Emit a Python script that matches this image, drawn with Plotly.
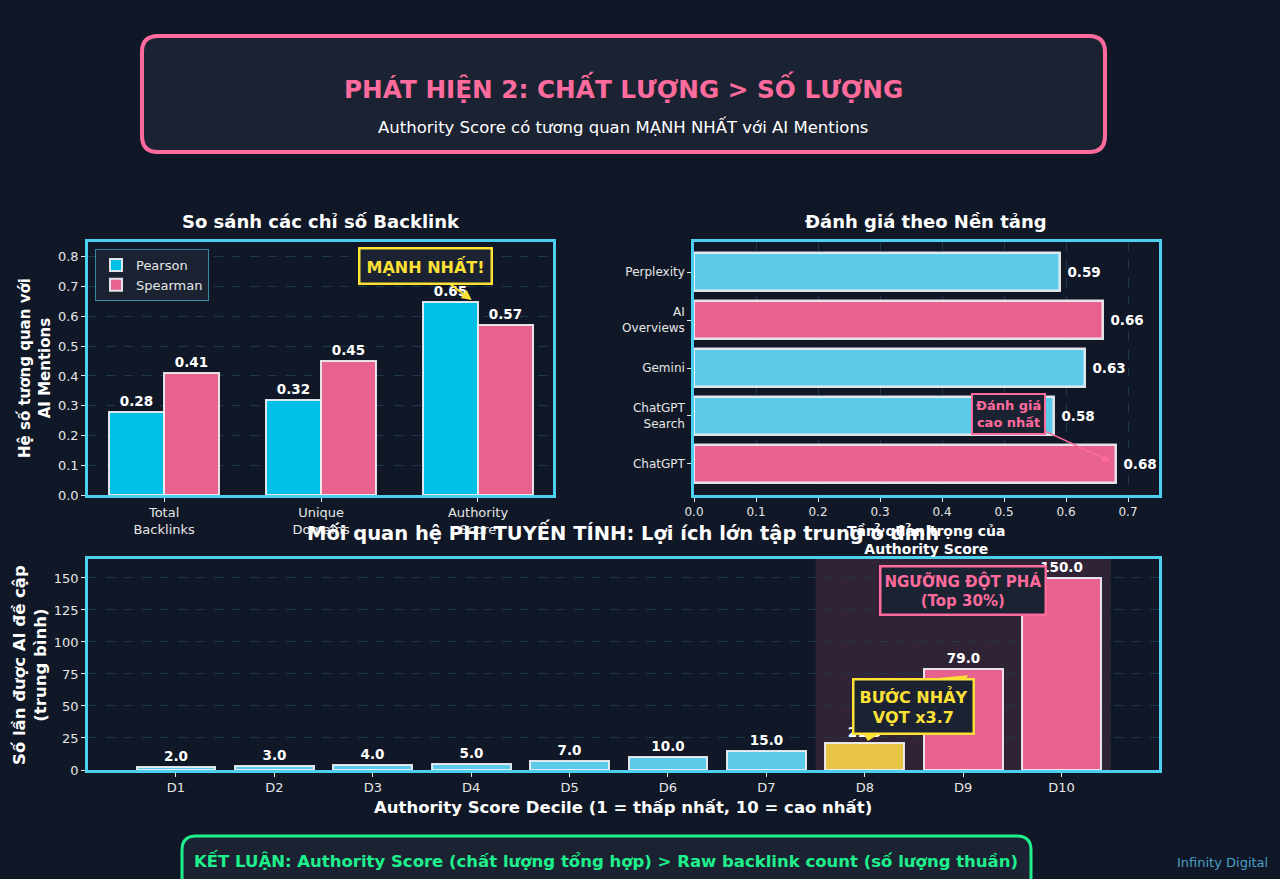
import plotly.graph_objects as go

# ---------------- data ----------------
metric_labels = ["Total<br>Backlinks", "Unique<br>Domains", "Authority<br>Score"]
pearson = [0.28, 0.32, 0.65]
spearman = [0.41, 0.45, 0.57]

platforms = ["ChatGPT", "ChatGPT<br>Search", "Gemini", "AI<br>Overviews", "Perplexity"]
platform_vals = [0.68, 0.58, 0.63, 0.66, 0.59]

deciles = ["D1", "D2", "D3", "D4", "D5", "D6", "D7", "D8", "D9", "D10"]
mentions = [2.0, 3.0, 4.0, 5.0, 7.0, 10.0, 15.0, 21.3, 79.0, 150.0]

# ---------------- styling ----------------
W, H = 1280, 879
BG = "#101827"
BOX = "#1b2333"
CYAN = "#00c0e8"
LCYAN = "#5ccbea"
PINK = "#e8628f"
HPINK = "#ff6b9d"
YEL = "#e8c547"
TYEL = "#ffe135"
SPINE = "#4dd0f0"
GRID = "#1e3a4a"
EDGE = "rgba(240,240,245,0.92)"
TXT = "#e6e6e6"
GREEN = "#1ef08c"
FONT = "DejaVu Sans"


def px(x):
    return x / W


def py(y):
    return 1 - y / H


def rrect(x0, y0, x1, y1, r):
    p = lambda x, y: f"{px(x):.5f},{py(y):.5f}"
    s = f"M {p(x0 + r, y0)} L {p(x1 - r, y0)} Q {p(x1, y0)} {p(x1, y0 + r)} "
    s += f"L {p(x1, y1 - r)} Q {p(x1, y1)} {p(x1 - r, y1)} "
    s += f"L {p(x0 + r, y1)} Q {p(x0, y1)} {p(x0, y1 - r)} "
    s += f"L {p(x0, y0 + r)} Q {p(x0, y0)} {p(x0 + r, y0)} Z"
    return s


fig = go.Figure()

lab = dict(color="white", size=13.5, family=FONT)

# ---- left: grouped bars ----
xi = list(range(len(metric_labels)))
fig.add_trace(go.Bar(
    x=xi, y=pearson, name="Pearson", offset=-0.35, width=0.35,
    marker=dict(color=CYAN, line=dict(color=EDGE, width=2)),
    text=[f"<b>{v:.2f}</b>" for v in pearson], textposition="outside",
    textfont=lab, cliponaxis=False, xaxis="x", yaxis="y"))
fig.add_trace(go.Bar(
    x=xi, y=spearman, name="Spearman", offset=0, width=0.35,
    marker=dict(color=PINK, line=dict(color=EDGE, width=2)),
    text=[f"<b>{v:.2f}</b>" for v in spearman], textposition="outside",
    textfont=lab, cliponaxis=False, xaxis="x", yaxis="y"))

# ---- right: horizontal bars ----
pcolors = [PINK, LCYAN, LCYAN, PINK, LCYAN]
yi = list(range(len(platforms)))
fig.add_trace(go.Bar(
    x=platform_vals, y=yi, orientation="h", width=0.8, showlegend=False,
    marker=dict(color=pcolors, line=dict(color=EDGE, width=2.5)),
    text=[f"<b> {v:.2f}</b>" for v in platform_vals], textposition="outside",
    textfont=lab, cliponaxis=False, xaxis="x2", yaxis="y2"))

# ---- bottom: decile bars ----
dcolors = [LCYAN] * 7 + [YEL] + [PINK] * 2
di = list(range(len(deciles)))
fig.add_trace(go.Bar(
    x=di, y=mentions, width=0.8, showlegend=False,
    marker=dict(color=dcolors, line=dict(color=EDGE, width=2)),
    text=[f"<b>{v:.1f}</b>" for v in mentions], textposition="outside",
    textfont=lab, cliponaxis=False, xaxis="x3", yaxis="y3"))

axis_common = dict(showline=True, linecolor=SPINE, linewidth=2.5, mirror=True,
                   ticks="outside", ticklen=4, tickcolor=TXT, zeroline=False,
                   automargin=False,
                   tickfont=dict(color=TXT, size=13, family=FONT))
small_ticks = {**axis_common, "tickfont": dict(color=TXT, size=12, family=FONT)}

fig.update_layout(
    width=W, height=H, margin=dict(l=0, r=0, t=0, b=0, pad=0, autoexpand=False),
    paper_bgcolor=BG, plot_bgcolor=BG,
    font=dict(family=FONT, color=TXT),
    bargap=0,
    xaxis=dict(domain=[px(88), px(553)], anchor="y", range=[-0.485, 2.478],
               tickvals=xi, ticktext=metric_labels, showgrid=False, **axis_common),
    yaxis=dict(domain=[py(495), py(242)], anchor="x", range=[0, 0.85],
               tickvals=[0, 0.1, 0.2, 0.3, 0.4, 0.5, 0.6, 0.7, 0.8], tickformat=".1f",
               showgrid=True, gridcolor=GRID, griddash="dash", gridwidth=1, **axis_common),
    xaxis2=dict(domain=[px(694), px(1159)], anchor="y2", range=[0, 0.75],
                tickvals=[0, 0.1, 0.2, 0.3, 0.4, 0.5, 0.6, 0.7], tickformat=".1f",
                showgrid=True, gridcolor=GRID, griddash="dash", gridwidth=1, **small_ticks),
    yaxis2=dict(domain=[py(495), py(242)], anchor="x2", range=[-0.646, 4.625],
                tickvals=yi, ticktext=platforms, showgrid=False, **small_ticks),
    xaxis3=dict(domain=[px(88), px(1159)], anchor="y3", range=[-0.894, 9.99],
                tickvals=di, ticktext=deciles, showgrid=False, **axis_common),
    yaxis3=dict(domain=[py(770), py(559)], anchor="x3", range=[0, 164.8],
                tickvals=[0, 25, 50, 75, 100, 125, 150],
                showgrid=True, gridcolor=GRID, griddash="dash", gridwidth=1, **axis_common),
    legend=dict(x=px(95), y=py(249), xanchor="left", yanchor="top",
                bgcolor=BOX, bordercolor="rgba(77,208,240,0.6)", borderwidth=1,
                tracegroupgap=0,
                font=dict(color=TXT, size=13, family=FONT)),
)

shapes = [
    dict(type="path", path=rrect(142, 36, 1105, 152, 16), xref="paper", yref="paper",
         fillcolor=BOX, line=dict(color=HPINK, width=4), layer="below"),
    dict(type="path", path=rrect(182, 836, 1031, 892, 14), xref="paper", yref="paper",
         fillcolor=BOX, line=dict(color=GREEN, width=3), layer="below"),
    dict(type="rect", xref="x3", yref="y3 domain", x0=6.5, x1=9.5, y0=0, y1=1,
         fillcolor="rgba(232,98,143,0.15)", line=dict(width=0), layer="below"),
]
fig.update_layout(shapes=shapes)


def pa(x, y, text, size, color="white", bold=True, angle=0, **kw):
    t = f"<b>{text}</b>" if bold else text
    return dict(x=px(x), y=py(y), xref="paper", yref="paper", text=t, showarrow=False,
                textangle=angle, xanchor="center", yanchor="middle",
                font=dict(size=size, color=color, family=FONT), **kw)


ann = [
    pa(623, 88, "PHÁT HIỆN 2: CHẤT LƯỢNG > SỐ LƯỢNG", 24.7, HPINK),
    pa(623, 126, "Authority Score có tương quan MẠNH NHẤT với AI Mentions", 16.5, "white", bold=False),
    pa(321, 222, "So sánh các chỉ số Backlink", 18),
    pa(926, 222, "Đánh giá theo Nền tảng", 18),
    pa(34, 368, "Hệ số tương quan với<br>AI Mentions", 15, angle=-90),
    pa(30, 665, "Số lần được AI đề cập<br>(trung bình)", 16.5, angle=-90),
    pa(623, 532, "Mối quan hệ PHI TUYẾN TÍNH: Lợi ích lớn tập trung ở đỉnh", 19.5),
    pa(926, 540, "Tầm quan trọng của<br>Authority Score", 14),
    pa(623, 807, "Authority Score Decile (1 = thấp nhất, 10 = cao nhất)", 16.5),
    pa(606, 860, "KẾT LUẬN: Authority Score (chất lượng tổng hợp) > Raw backlink count (số lượng thuần)", 16.5, GREEN),
    pa(1222, 862, "Infinity Digital", 13, "#4a9ec4", bold=False),
    dict(x=1.96, y=0.655, xref="x", yref="y", text="<b>MẠNH NHẤT!</b>", showarrow=True,
         ax=-46, ay=-34, arrowhead=2, arrowsize=1, arrowwidth=2, arrowcolor=TYEL,
         font=dict(size=16, color=TYEL, family=FONT), bgcolor=BOX, bordercolor=TYEL,
         borderwidth=2.5, borderpad=6),
    dict(x=0.671, y=0.06, xref="x2", yref="y2", text="<b>Đánh giá<br>cao nhất</b>", showarrow=True,
         ax=-102, ay=-47, arrowhead=2, arrowsize=1, arrowwidth=1.5, arrowcolor=HPINK,
         font=dict(size=13, color=HPINK, family=FONT), bgcolor=BOX, bordercolor=HPINK,
         borderwidth=2, borderpad=3),
    dict(x=8.0, y=140, xref="x3", yref="y3", text="<b>NGƯỠNG ĐỘT PHÁ<br>(Top 30%)</b>",
         showarrow=False, font=dict(size=15, color=HPINK, family=FONT), bgcolor=BOX,
         bordercolor=HPINK, borderwidth=2.5, borderpad=3),
    dict(x=8.05, y=74, xref="x3", yref="y3", ax=7.0, ay=24, axref="x3", ayref="y3",
         text="", showarrow=True, arrowhead=2, arrowsize=0.9, arrowwidth=6, arrowcolor=TYEL),
    dict(x=7.5, y=49.5, xref="x3", yref="y3", text="<b>BƯỚC NHẢY<br>VỌT x3.7</b>",
         showarrow=False, font=dict(size=16, color=TYEL, family=FONT), bgcolor=BOX,
         bordercolor=TYEL, borderwidth=2.5, borderpad=5),
]
fig.update_layout(annotations=ann)

fig.write_html("out.html")
